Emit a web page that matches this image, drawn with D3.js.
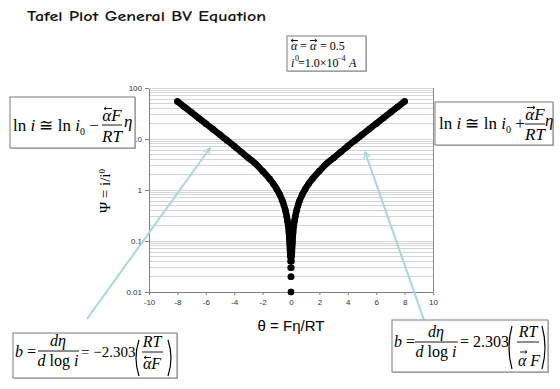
<!DOCTYPE html>
<html><head><meta charset="utf-8">
<script src="https://cdn.jsdelivr.net/npm/d3@7"></script>
<style>body{margin:0;background:#fff}svg{display:block}</style>
</head><body><svg id="c" width="560" height="389"></svg>
<script>
// ---- data ----
const theta = [-8,-7.5,-7,-6.5,-6,-5.5,-5,-4.5,-4,-3.5,-3,-2.5,-2,-1.5,-1.25,-1,-0.8,-0.6,-0.5,-0.4,-0.3,-0.25,-0.2,-0.15,-0.12,-0.1,-0.09,-0.08,-0.07,-0.06,-0.05,-0.04,-0.03,-0.02,-0.01,
  0.01,0.02,0.03,0.04,0.05,0.06,0.07,0.08,0.09,0.1,0.12,0.15,0.2,0.25,0.3,0.4,0.5,0.6,0.8,1,1.25,1.5,2,2.5,3,3.5,4,4.5,5,5.5,6,6.5,7,7.5,8];
const psi = [54.6,42.5,33.1,25.7,20.0,15.6,12.1,9.38,7.25,5.55,4.26,3.29,2.35,1.64,1.33,1.04,0.821,0.609,0.505,0.403,0.301,0.25,0.2,0.15,0.12,0.1,0.09,0.08,0.07,0.06,0.05,0.04,0.03,0.02,0.01,
  0.01,0.02,0.03,0.04,0.05,0.06,0.07,0.08,0.09,0.1,0.12,0.15,0.2,0.25,0.301,0.403,0.505,0.609,0.821,1.04,1.33,1.64,2.35,3.29,4.26,5.55,7.25,9.38,12.1,15.6,20.0,25.7,33.1,42.5,54.6];
const xTicks = [-10,-8,-6,-4,-2,0,2,4,6,8,10];
const yTicks = [0.01,0.1,1,10,100];
const yTickLabels = ["0.01","0.1","1","10","100"];
const titleText = "Tafel Plot General BV Equation";
const xLabelText = "θ = Fη/RT";

const svg = d3.select("#c");
const x = d3.scaleLinear().domain([-10,10]).range([149,433]);
const y = d3.scaleLog().domain([0.01,100]).range([292,88]);

// title
svg.append("text").attr("x",27).attr("y",21).attr("textLength",239).attr("lengthAdjust","spacingAndGlyphs")
  .style("font-family","'Comic Sans MS','Comic Neue','DejaVu Sans',sans-serif").style("font-weight","bold")
  .style("font-size","14px").attr("fill","#111").text(titleText);

// gridlines
const grid = [];
[0.01,0.1,1,10].forEach(d=>{for(let k=1;k<=9;k++) grid.push(k*d);});
grid.push(100);
svg.append("g").selectAll("line").data(grid).join("line")
  .attr("x1",x(-10)).attr("x2",x(10)).attr("y1",d=>y(d)).attr("y2",d=>y(d))
  .attr("stroke","#d4d4d4").attr("stroke-width",1).attr("shape-rendering","crispEdges");
svg.append("line").attr("x1",x(10)).attr("x2",x(10)).attr("y1",y(100)).attr("y2",y(0.01)).attr("stroke","#8c8c8c").attr("shape-rendering","crispEdges");

// axes
const ya = svg.append("g").attr("transform",`translate(${x(-10)},0)`)
  .call(d3.axisLeft(y).tickValues(yTicks).tickFormat((d,i)=>yTickLabels[i]).tickSize(4).tickSizeOuter(0));
const xa = svg.append("g").attr("transform",`translate(0,${y(0.01)})`)
  .call(d3.axisBottom(x).tickValues(xTicks).tickFormat(d=>String(d)).tickSize(3).tickSizeOuter(0));
[ya,xa].forEach(a=>{
  a.select(".domain").attr("stroke","#808080").attr("shape-rendering","crispEdges");
  a.selectAll(".tick line").attr("stroke","#808080");
  a.selectAll(".tick text").style("font-family","'Liberation Sans',Arial,sans-serif").style("font-size","8px").attr("fill","#333");
});
xa.selectAll(".tick text").attr("dy","0.9em");

// data curve
const pts = theta.map((t,i)=>({t:t,p:psi[i]}));
const line = d3.line().x(d=>x(d.t)).y(d=>y(d.p)).curve(d3.curveMonotoneX);
const leftB = pts.filter(d=>d.t<=-0.05), rightB = pts.filter(d=>d.t>=0.05);
[leftB,rightB].forEach(b=>{
  svg.append("path").attr("d",line(b)).attr("fill","none").attr("stroke","#000")
    .attr("stroke-width",6.5).attr("stroke-linecap","round").attr("stroke-linejoin","round");
});
svg.append("g").selectAll("circle").data(pts).join("circle")
  .attr("cx",d=>x(d.t)).attr("cy",d=>y(d.p)).attr("r",3.2).attr("fill","#000");

// axis titles
svg.append("text").attr("x",291).attr("y",331).attr("text-anchor","middle")
  .style("font-family","'Liberation Sans',Arial,sans-serif").style("font-size","15px").text(xLabelText);
const yl = svg.append("text").attr("transform","translate(110,191) rotate(-90)").attr("text-anchor","middle")
  .style("font-family","'Liberation Serif','Times New Roman',serif").style("font-size","15px");
yl.append("tspan").text("Ψ = ");
yl.append("tspan").text("i/i");
yl.append("tspan").attr("dy",-5).style("font-size","9px").text("0");

// arrows
const acol = "#a7d7dc";
const defs = svg.append("defs");
defs.append("marker").attr("id","ah").attr("viewBox","0 0 10 10").attr("refX",9).attr("refY",5)
  .attr("markerWidth",4).attr("markerHeight",4).attr("orient","auto")
  .append("path").attr("d","M1,1 L9,5 L1,9").attr("fill","none").attr("stroke",acol).attr("stroke-width",1.6);
svg.append("line").attr("x1",87).attr("y1",319).attr("x2",210).attr("y2",148)
  .attr("stroke",acol).attr("stroke-width",2).attr("marker-end","url(#ah)");
svg.append("line").attr("x1",424).attr("y1",320).attr("x2",365).attr("y2",152)
  .attr("stroke",acol).attr("stroke-width",2).attr("marker-end","url(#ah)");

// ---- formula helpers ----
const SERIF = "'Liberation Serif','Times New Roman',serif";
function box(x0,y0,w,h){
  svg.append("rect").attr("x",x0+1).attr("y",y0+1).attr("width",w).attr("height",h).attr("fill","#c8c8c8");
  svg.append("rect").attr("x",x0).attr("y",y0).attr("width",w).attr("height",h).attr("fill","#fff").attr("stroke","#7a7a7a").attr("stroke-width",1);
}
function t(xp,yp,s,size,opt){
  opt = opt||{};
  const e = svg.append("text").attr("x",xp).attr("y",yp).style("font-family",SERIF).style("font-size",size+"px");
  if(opt.italic) e.style("font-style","italic");
  if(opt.anchor) e.attr("text-anchor",opt.anchor);
  e.text(s);
  return e;
}
function rich(xp,yp,size,parts,anchor){
  const e = svg.append("text").attr("x",xp).attr("y",yp).style("font-family",SERIF).style("font-size",size+"px");
  if(anchor) e.attr("text-anchor",anchor);
  parts.forEach(p=>{
    const ts = e.append("tspan").text(p.s);
    if(p.i) ts.style("font-style","italic");
    if(p.dy) ts.attr("dy",p.dy);
    if(p.size) ts.style("font-size",p.size+"px");
  });
  return e;
}
function hline(x1,x2,yy){svg.append("line").attr("x1",x1).attr("x2",x2).attr("y1",yy).attr("y2",yy).attr("stroke","#000").attr("stroke-width",0.9);}
function vecArrow(x1,x2,yy,dir){
  hline(x1,x2,yy);
  const hx = dir>0?x2:x1, s = dir>0?-1:1;
  svg.append("path").attr("d",`M${hx+s*2.2},${yy-1.6} L${hx},${yy} L${hx+s*2.2},${yy+1.6}`).attr("fill","none").attr("stroke","#000").attr("stroke-width",0.8);
}
function paren(xp,y1,y2,left){
  const m=(y1+y2)/2, b = left?-6:6;
  svg.append("path").attr("d",`M${xp},${y1} Q${xp+b},${m} ${xp},${y2}`).attr("fill","none").attr("stroke","#000").attr("stroke-width",1.2);
}

// top parameter box
box(287,36,79,35);
t(291,50,"α",12,{italic:true}); vecArrow(291,298,40.5,-1);
t(300,50,"=",12);
t(310,50,"α",12,{italic:true}); vecArrow(310,317,40.5,1);
t(320,50,"= 0.5",12);
t(291,67,"i",12,{italic:true}); t(295,61,"0",8);
t(298,67,"=1.0×10",12); t(337,61,"−4",8); t(349,67,"A",12,{italic:true});

// left Tafel box
box(10,97,125,51);
rich(13,131,17,[{s:"ln "},{s:"i",i:true},{s:" ≅ ln "},{s:"i",i:true},{s:"0",size:10,dy:4},{s:" −",dy:-4}]);
rich(112,121,17,[{s:"α",i:true},{s:"F",i:true}],"middle");
vecArrow(104,112,108.5,-1);
hline(102,122,125);
rich(112,142,17,[{s:"RT",i:true}],"middle");
t(124,127,"η",17,{italic:true});

// right Tafel box
box(435,102,118,43);
rich(439,129,17,[{s:"ln "},{s:"i",i:true},{s:" ≅ ln "},{s:"i",i:true},{s:"0",size:10,dy:4},{s:" +",dy:-4}]);
rich(535,120,17,[{s:"α",i:true},{s:"F",i:true}],"middle");
vecArrow(527,535,107.5,1);
hline(525,545,124);
rich(535,140,17,[{s:"RT",i:true}],"middle");
t(545,126,"η",17,{italic:true});

// bottom-left slope box
box(13,333,164,45);
rich(15,357,16,[{s:"b",i:true},{s:" ="}]);
rich(58,346,16,[{s:"d",i:true},{s:"η",i:true}],"middle");
hline(38,79,351);
rich(58,366,16,[{s:"d",i:true},{s:" log "},{s:"i",i:true}],"middle");
t(81,357,"= −2.303",15);
paren(139,340,376,true);
rich(152,347,16,[{s:"RT",i:true}],"middle");
hline(142,163,352);
rich(152,369,16,[{s:"α",i:true},{s:"F",i:true}],"middle");
vecArrow(144,151,357.5,-1);
paren(168,340,376,false);

// bottom-right slope box
box(392,320,156,52);
rich(394,347,16,[{s:"b",i:true},{s:" ="}]);
rich(436,337,16,[{s:"d",i:true},{s:"η",i:true}],"middle");
hline(415,458,342);
rich(436,357,16,[{s:"d",i:true},{s:" log "},{s:"i",i:true}],"middle");
t(460,347,"= 2.303",16);
paren(512,326,369,true);
rich(528,337,16,[{s:"RT",i:true}],"middle");
hline(517,539,342);
rich(529,366,16,[{s:"α F",i:true}],"middle");
vecArrow(520,527,352,1);
paren(542,326,369,false);
</script></body></html>
